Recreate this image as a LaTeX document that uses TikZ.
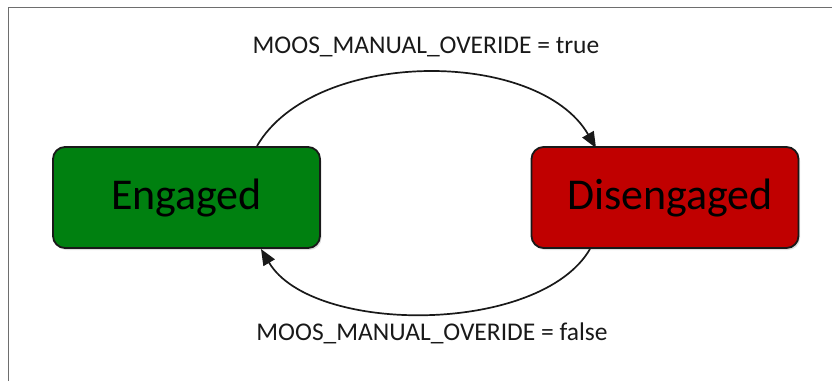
\documentclass[tikz,border=0pt]{standalone}
\usepackage{fontspec}
\setmainfont{Carlito}
\usetikzlibrary{arrows.meta,shadows}
\definecolor{enggreen}{RGB}{0,128,16}
\definecolor{disred}{RGB}{192,0,0}
\definecolor{framegray}{RGB}{110,110,110}
\begin{document}
\begin{tikzpicture}[x=1pt,y=-1pt,
  statebox/.style={draw=black!90, line width=1.8pt, rounded corners=12pt, minimum width=267pt, minimum height=101pt, inner sep=0pt, font=\fontsize{44}{48}\selectfont, text=black, drop shadow={shadow xshift=1.5pt, shadow yshift=-2pt, opacity=0.25}},
  trans/.style={line width=1.7pt, draw=black!90, -{Triangle[length=16pt,width=13pt]}},
  lbl/.style={font=\fontsize{25.5}{28}\selectfont, text=black!90, inner sep=0pt}]
\useasboundingbox (0,0) rectangle (832,381);
\draw[framegray, line width=1.6pt] (8.5,381) -- (8.5,7.5) -- (832,7.5);
\node[statebox, fill=enggreen] (eng) at (186.5,197.5) {Engaged};
\node[statebox, fill=disred] (dis) at (665,197.5) {\hspace*{10pt}Disengaged};
\coordinate (t1) at (257,146);
\coordinate (t2) at (596,148);
\coordinate (b1) at (590,249);
\coordinate (b2) at (261,249);
\draw[trans] (t1) .. controls (314,48) and (538,48) .. (t2);
\draw[trans] (b1) .. controls (540,335) and (312,335) .. (b2);
\node[lbl] (top) at (426,47) {MOOS\_MANUAL\_OVERIDE = true};
\node[lbl] (bot) at (432,333) {MOOS\_MANUAL\_OVERIDE = false};
\end{tikzpicture}
\end{document}
